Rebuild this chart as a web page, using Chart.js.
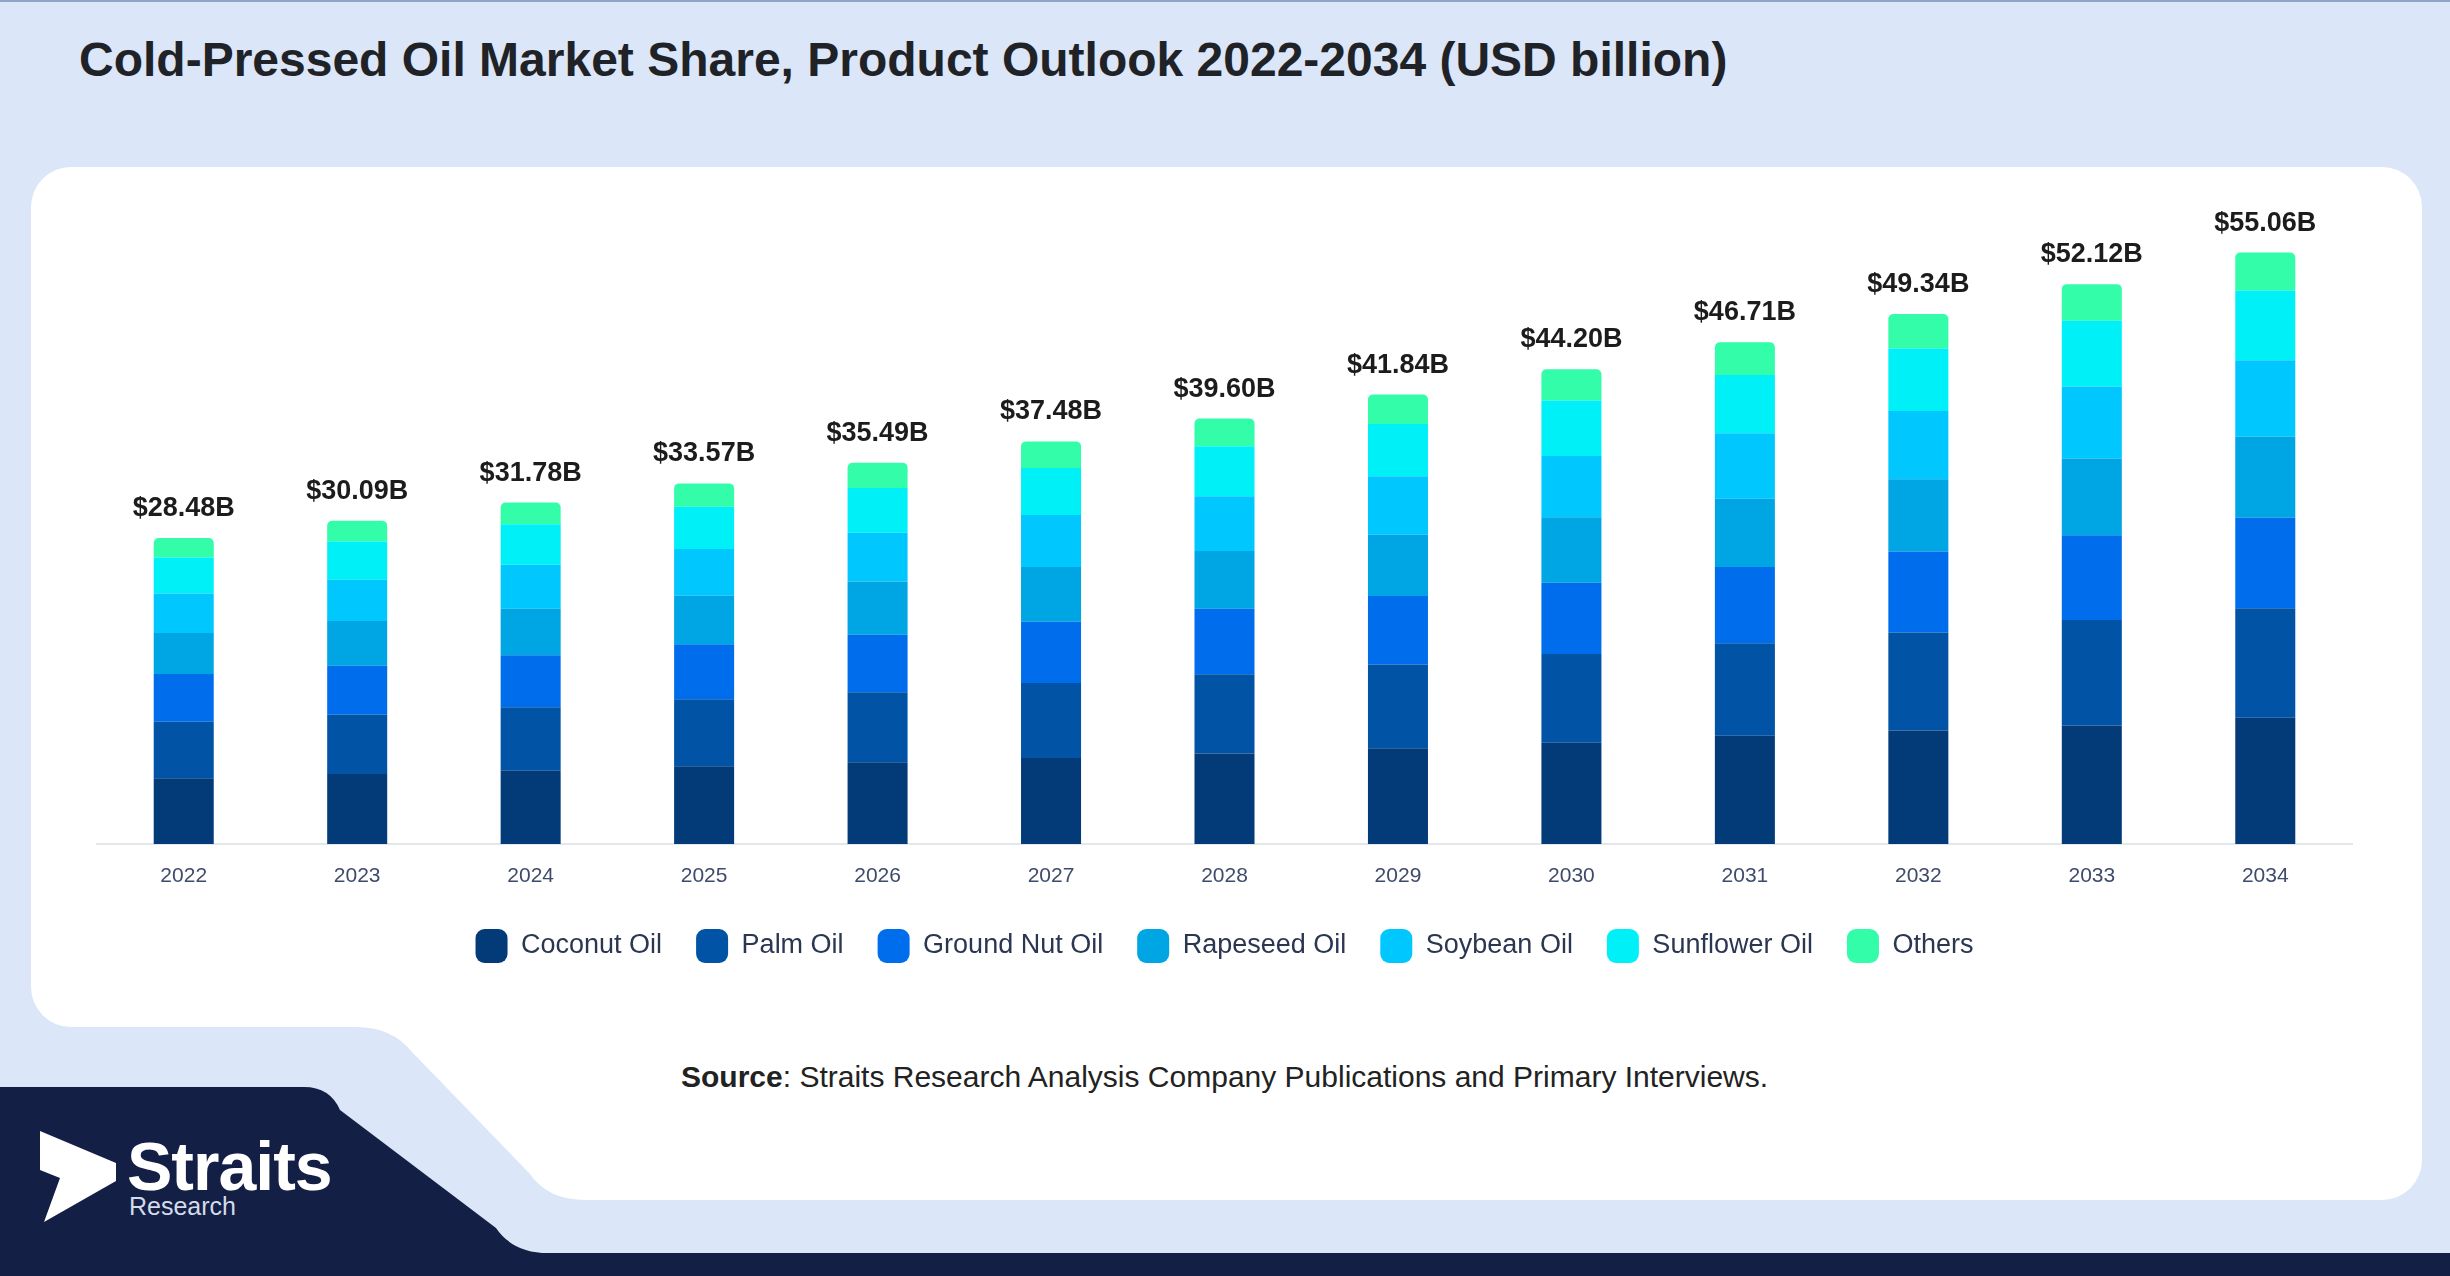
<!DOCTYPE html>
<html>
<head>
<meta charset="utf-8">
<script src="https://cdn.jsdelivr.net/npm/chart.js@4.4.1/dist/chart.umd.min.js"></script>
<style>
  html, body { margin: 0; padding: 0; }
  body {
    width: 2450px; height: 1276px; overflow: hidden; position: relative;
    background: #dbe6f8;
    font-family: "Liberation Sans", Arial, sans-serif;
  }
  #bg { position: absolute; left: 0; top: 0; }
  #title {
    position: absolute; left: 79px; top: 36px; line-height: 48px;
    font-size: 48px; font-weight: bold; color: #1f2328; white-space: nowrap;
  }
  #chartBox { position: absolute; left: 0; top: 178px; width: 2450px; height: 795px; }
  #source {
    position: absolute; left: 681px; top: 1062px; line-height: 30px;
    font-size: 30px; color: #222; white-space: nowrap;
  }
  #logoName {
    position: absolute; left: 127px; top: 1132px; line-height: 68px;
    font-size: 68px; font-weight: bold; color: #fff; letter-spacing: -1px;
  }
  #logoSub {
    position: absolute; left: 129px; top: 1194px; line-height: 25px;
    font-size: 25px; color: #d4dbea;
  }
</style>
</head>
<body>
<svg id="bg" width="2450" height="1276" viewBox="0 0 2450 1276">
  <rect x="0" y="0" width="2450" height="2" fill="#93a3c6"/>
  <path fill="#ffffff" d="M71 167 H2382 A40 40 0 0 1 2422 207 V1160 A40 40 0 0 1 2382 1200
     H585 Q548 1200 530 1174 L412 1052 Q392 1027 356 1027 H71 A40 40 0 0 1 31 987 V207 A40 40 0 0 1 71 167 Z"/>
  <path fill="#131f45" d="M0 1087 H304 Q330 1087 340 1110 L496 1228 Q513 1253 548 1253 H2450 V1276 H0 Z"/>
  <polygon fill="#ffffff" points="40,1131 116,1163 116,1181 44,1222 60,1178 40,1170"/>
</svg>

<div id="title">Cold-Pressed Oil Market Share, Product Outlook 2022-2034 (USD billion)</div>
<div id="chartBox"><canvas id="myChart"></canvas></div>
<div id="source"><b>Source</b>: Straits Research Analysis Company Publications and Primary Interviews.</div>
<div id="logoName">Straits</div>
<div id="logoSub">Research</div>

<script>
const years = ['2022', '2023', '2024', '2025', '2026', '2027', '2028', '2029', '2030', '2031', '2032', '2033', '2034'];
const totals = [28.48, 30.09, 31.78, 33.57, 35.49, 37.48, 39.60, 41.84, 44.20, 46.71, 49.34, 52.12, 55.06];

const coconut   = [6.11, 6.51, 6.83, 7.23, 7.62, 8.01, 8.43, 8.91, 9.43, 10.08, 10.57, 11.02, 11.76];
const palm      = [5.27, 5.52, 5.90, 6.24, 6.50, 6.98, 7.37, 7.79, 8.25, 8.60, 9.12, 9.83, 10.18];
const groundNut = [4.44, 4.56, 4.85, 5.12, 5.35, 5.70, 6.09, 6.38, 6.65, 7.11, 7.53, 7.90, 8.42];
const rapeseed  = [3.82, 4.16, 4.32, 4.53, 4.96, 5.09, 5.39, 5.70, 6.08, 6.35, 6.73, 7.13, 7.57];
const soybean   = [3.69, 3.85, 4.10, 4.34, 4.55, 4.84, 5.10, 5.45, 5.70, 6.09, 6.35, 6.71, 7.10];
const sunflower = [3.35, 3.57, 3.76, 3.94, 4.16, 4.39, 4.65, 4.87, 5.17, 5.44, 5.82, 6.11, 6.50];
const others    = [1.80, 1.92, 2.02, 2.17, 2.35, 2.47, 2.57, 2.74, 2.92, 3.04, 3.22, 3.42, 3.53];

const seriesNames = ['Coconut Oil', 'Palm Oil', 'Ground Nut Oil', 'Rapeseed Oil', 'Soybean Oil', 'Sunflower Oil', 'Others'];
const seriesValues = [coconut, palm, groundNut, rapeseed, soybean, sunflower, others];
const seriesColors = ['#023b78', '#0053a5', '#006eec', '#00a5e3', '#00c8fe', '#00f0f8', '#33fda9'];

const fontFamily = '"Liberation Sans", Arial, sans-serif';

// totals written above each stack
const totalLabels = {
    id: 'totalLabels',
    afterDatasetsDraw(chart) {
        const ctx = chart.ctx;
        const meta = chart.getDatasetMeta(chart.data.datasets.length - 1);
        ctx.save();
        ctx.font = 'bold 27px ' + fontFamily;
        ctx.fillStyle = '#1c1c1c';
        ctx.textAlign = 'center';
        ctx.textBaseline = 'alphabetic';
        meta.data.forEach((bar, i) => {
            ctx.fillText('$' + totals[i].toFixed(2) + 'B', bar.x, bar.y - 22);
        });
        ctx.restore();
    }
};

const datasets = seriesNames.map((name, i) => ({
    label: name,
    data: seriesValues[i],
    backgroundColor: seriesColors[i],
    borderWidth: 0,
    barPercentage: 0.346,
    categoryPercentage: 1.0,
    borderRadius: i === seriesNames.length - 1 ? { topLeft: 5, topRight: 5, bottomLeft: 0, bottomRight: 0 } : 0,
    borderSkipped: false
}));

new Chart(document.getElementById('myChart'), {
    type: 'bar',
    data: { labels: years, datasets },
    options: {
        responsive: true,
        maintainAspectRatio: false,
        animation: false,
        layout: { padding: { left: 97, right: 98, top: 0, bottom: 0 } },
        scales: {
            x: {
                stacked: true,
                grid: { display: false, drawTicks: false },
                border: { display: true, color: '#e3e6ea', width: 2 },
                ticks: { color: '#3e4b6b', font: { family: fontFamily, size: 21 }, padding: 20 },
                afterFit: (scale) => { scale.height = 51; }
            },
            y: {
                stacked: true,
                display: false,
                min: 0,
                max: 62
            }
        },
        plugins: {
            legend: {
                position: 'bottom',
                labels: {
                    color: '#2b3652',
                    font: { family: fontFamily, size: 27 },
                    boxWidth: 32,
                    boxHeight: 34,
                    padding: 34,
                    useBorderRadius: true,
                    borderRadius: 9
                }
            },
            tooltip: { enabled: false }
        }
    },
    plugins: [totalLabels]
});
</script>
</body>
</html>
